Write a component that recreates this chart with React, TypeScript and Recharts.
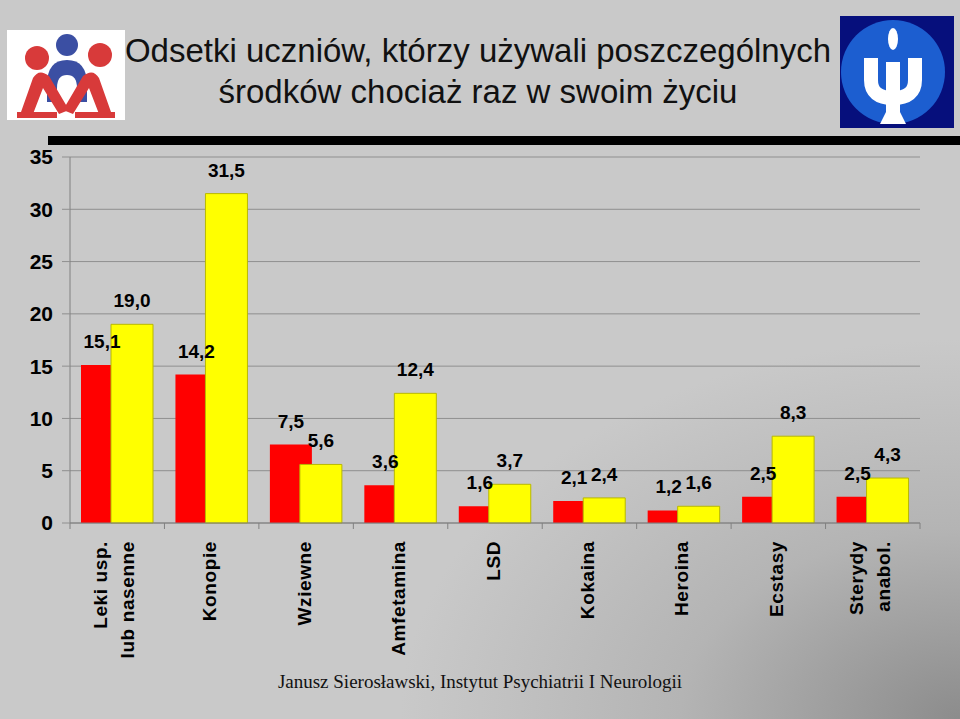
import React from 'react';
import { BarChart, Bar, XAxis, YAxis, CartesianGrid, LabelList } from 'recharts';

const categories = [
  'Leki usp.\nlub nasenne',
  'Konopie',
  'Wziewne',
  'Amfetamina',
  'LSD',
  'Kokaina',
  'Heroina',
  'Ecstasy',
  'Sterydy\nanabol.',
];
const redValues = [15.1, 14.2, 7.5, 3.6, 1.6, 2.1, 1.2, 2.5, 2.5];
const yellowValues = [19.0, 31.5, 5.6, 12.4, 3.7, 2.4, 1.6, 8.3, 4.3];
const yTicks = [0, 5, 10, 15, 20, 25, 30, 35];

const titleLines = ['Odsetki uczniów, którzy używali poszczególnych', 'środków chociaż raz w swoim życiu'];
const footerText = 'Janusz Sierosławski, Instytut Psychiatrii I Neurologii';

const data = categories.map((name, i) => ({ name, red: redValues[i], yellow: yellowValues[i] }));

const SANS = '"Liberation Sans", Arial, Helvetica, sans-serif';
const SERIF = '"Liberation Serif", "Times New Roman", serif';

const fmt = (v: number) => v.toFixed(1).replace('.', ',');

const renderLabel = (props: any) => {
  const vb = props.viewBox || {};
  const x = props.x ?? vb.x;
  const y = props.y ?? vb.y;
  const width = props.width ?? vb.width;
  const value = props.value;
  if (x == null || y == null || value == null) return null;
  return (
    <text
      x={x + width / 2}
      y={y - 17}
      textAnchor="middle"
      fill="#000"
      fontFamily={SANS}
      fontWeight="bold"
      fontSize={19}
    >
      {fmt(Number(value))}
    </text>
  );
};

const CatTick = (props: any) => {
  const { x, y, payload, index } = props;
  const half = payload && payload.offset ? payload.offset : 47.2;
  const lines = String(payload.value).split('\n');
  const n = lines.length;
  const lh = 27;
  const shift = n > 1 ? -3 : -2;
  return (
    <g>
      <line x1={x - half} x2={x - half} y1={y} y2={y + 6} stroke="#808080" strokeWidth={1} />
      {index === categories.length - 1 && (
        <line x1={x + half} x2={x + half} y1={y} y2={y + 6} stroke="#808080" strokeWidth={1} />
      )}
      {lines.map((ln, i) => {
        const lx = x + shift + (i - (n - 1) / 2) * lh;
        return (
          <text
            key={i}
            transform={`translate(${lx}, ${y + 18}) rotate(-90)`}
            textAnchor="end"
            dominantBaseline="central"
            fill="#000"
            fontFamily={SANS}
            fontWeight="bold"
            fontSize={19}
            letterSpacing={0.6}
          >
            {ln}
          </text>
        );
      })}
    </g>
  );
};

const LeftLogo = () => (
  <svg width={118} height={90} style={{ position: 'absolute', left: 7, top: 30 }} viewBox="0 0 118 90">
    <rect x={0} y={0} width={118} height={90} fill="#ffffff" />
    <circle cx={60} cy={15} r={11} fill="#3b4fa3" />
    <path d="M40 72 L40 55 Q40 30 60 30 Q80 30 80 55 L80 72 Z" fill="#3b4fa3" />
    <path d="M50 72 L50 58 Q50 45 60 45 Q70 45 70 58 L70 72 Z" fill="#ffffff" />
    <circle cx={30} cy={28} r={12} fill="#d83a3a" />
    <circle cx={93} cy={25} r={12} fill="#d83a3a" />
    <path d="M14 82 L26 48 Q32 38 42 46 L62 80 L52 84 L36 58 L26 84 Z" fill="#d83a3a" />
    <path d="M104 82 L92 48 Q86 38 76 46 L56 80 L66 84 L82 58 L92 84 Z" fill="#d83a3a" />
    <path d="M10 82 L50 82 L50 88 L10 88 Z" fill="#d83a3a" />
    <path d="M68 82 L108 82 L108 88 L68 88 Z" fill="#d83a3a" />
  </svg>
);

const RightLogo = () => (
  <svg width={114} height={112} style={{ position: 'absolute', left: 840, top: 16 }} viewBox="0 0 114 112">
    <rect x={0} y={0} width={114} height={112} fill="#060f7c" />
    <circle cx={53} cy={56} r={52} fill="#1c5ed0" />
    <ellipse cx={53} cy={23} rx={5} ry={11} fill="#ffffff" />
    <path d="M31 42 L31 64 Q31 82 53 82 Q75 82 75 64 L75 42" stroke="#ffffff" strokeWidth={14} fill="none" />
    <rect x={46} y={46} width={14} height={56} fill="#ffffff" />
    <path d="M40 108 L66 108 L60 96 L46 96 Z" fill="#ffffff" />
  </svg>
);

export default function App() {
  return (
    <div
      style={{
        position: 'absolute',
        left: 0,
        top: 0,
        width: 960,
        height: 719,
        overflow: 'hidden',
        background: 'radial-gradient(ellipse 560px 380px at 100% 100%, #8c8c8c 0%, #b4b4b4 50%, #c9c9c9 100%)',
        backgroundColor: '#c9c9c9',
      }}
    >
      <LeftLogo />
      <RightLogo />
      <div
        style={{
          position: 'absolute',
          left: 0,
          top: 30,
          width: 956,
          textAlign: 'center',
          fontFamily: SANS,
          fontSize: 33,
          lineHeight: '41px',
          color: '#111',
        }}
      >
        {titleLines.map((t, i) => (
          <div key={i}>{t}</div>
        ))}
      </div>
      <div style={{ position: 'absolute', left: 48, top: 136, width: 912, height: 9, background: '#000' }} />
      <div style={{ position: 'absolute', left: 0, top: 0 }}>
        <BarChart
          width={960}
          height={719}
          data={data}
          margin={{ top: 157, right: 40, bottom: 0, left: 0 }}
          barSize={42}
          barGap={-12}
        >
          <CartesianGrid vertical={false} stroke="#8f8f8f" strokeWidth={1} />
          <YAxis
            type="number"
            domain={[0, 35]}
            ticks={yTicks}
            interval={0}
            width={70}
            axisLine={{ stroke: '#808080' }}
            tickLine={{ stroke: '#8f8f8f' }}
            tickSize={8}
            tickMargin={9}
            tick={{ fill: '#000', fontSize: 21, fontWeight: 'bold', fontFamily: SANS }}
          />
          <XAxis
            dataKey="name"
            type="category"
            height={196}
            interval={0}
            axisLine={{ stroke: '#808080' }}
            tickLine={false}
            tickSize={0}
            tickMargin={0}
            tick={<CatTick />}
          />
          <Bar dataKey="red" fill="#ff0000" isAnimationActive={false}>
            <LabelList dataKey="red" content={renderLabel} />
          </Bar>
          <Bar dataKey="yellow" fill="#ffff00" stroke="#b8b800" strokeWidth={1} isAnimationActive={false}>
            <LabelList dataKey="yellow" content={renderLabel} />
          </Bar>
        </BarChart>
      </div>
      <div
        style={{
          position: 'absolute',
          left: 0,
          top: 670,
          width: 960,
          textAlign: 'center',
          fontFamily: SERIF,
          fontSize: 19,
          lineHeight: '24px',
          color: '#111',
        }}
      >
        {footerText}
      </div>
    </div>
  );
}
